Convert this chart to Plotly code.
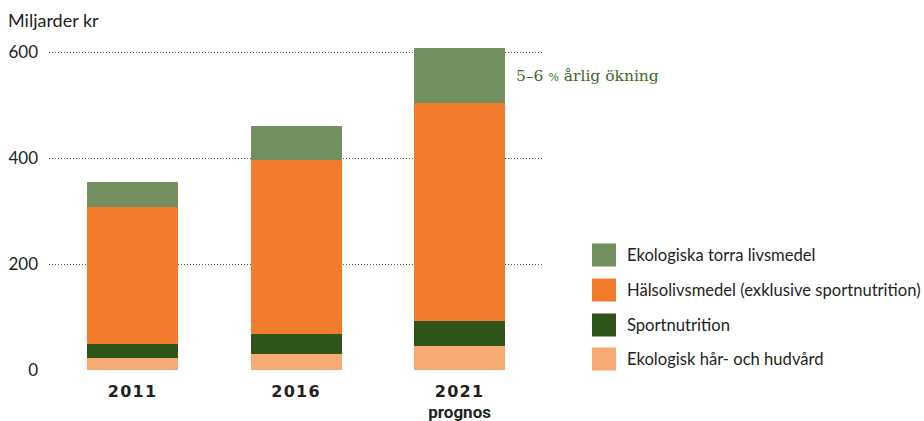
import plotly.graph_objects as go

years = ["2011", "2016", "2021"]
tick_text = [
    "<b><span style='letter-spacing:1.3px'>2011</span></b>",
    "<b><span style='letter-spacing:1.3px'>2016</span></b>",
    "<b><span style='letter-spacing:1.3px'>2021</span></b><br>"
    "<span style='font-family:Roboto;font-size:17px'><b>prognos</b></span>",
]

series_names = [
    "Ekologisk hår- och hudvård",
    "Sportnutrition",
    "Hälsolivsmedel (exklusive sportnutrition)",
    "Ekologiska torra livsmedel",
]
hudvard = [23, 30, 46]
sport = [26, 38, 47]
halso = [259, 329, 412]
torra = [47, 64, 103]
series_values = [hudvard, sport, halso, torra]
colors = ["#f8aa74", "#2f551b", "#f37b2c", "#748f5f"]

y_ticks = [0, 200, 400, 600]
annotation_text = "5–6 <span style='font-size:11px'>%</span> årlig ökning"
y_title = "Miljarder kr"

FONT = "Lato"
TXT = "#231f20"

fig = go.Figure()
for name, vals, col in zip(series_names, series_values, colors):
    fig.add_trace(go.Bar(x=years, y=vals, name=name, marker=dict(color=col, line=dict(width=0)),
                         width=0.557, showlegend=False))

W, H = 924, 421
ml, mr, mt, mb = 49, 381, 31, 51
pw = W - ml - mr
ph = H - mt - mb

def px_x(x):
    return (x - ml) / pw

def px_y(y):
    return (H - mb - y) / ph

shapes = []
annotations = []
legend_y = [255, 290, 325, 359]
for i, (name, col) in enumerate(zip(series_names[::-1], colors[::-1])):
    yc = legend_y[i]
    shapes.append(dict(type="rect", xref="paper", yref="paper",
                       x0=px_x(592), x1=px_x(616), y0=px_y(yc - 11.5), y1=px_y(yc + 11.5),
                       fillcolor=col, line=dict(width=0)))
    annotations.append(dict(xref="paper", yref="paper", x=px_x(625), y=px_y(yc),
                            xanchor="left", yanchor="middle", text=name, showarrow=False,
                            font=dict(family=FONT, size=16.6, color=TXT)))

annotations.append(dict(xref="paper", yref="paper", x=px_x(6), y=px_y(20),
                        xanchor="left", yanchor="middle", text=y_title, showarrow=False,
                        font=dict(family=FONT, size=18, color=TXT)))
annotations.append(dict(xref="paper", yref="paper", x=px_x(514), y=px_y(76),
                        xanchor="left", yanchor="middle", text=annotation_text, showarrow=False,
                        font=dict(family="DejaVu Serif", size=15.5, color="#3b6a28")))

fig.update_layout(
    width=W, height=H,
    margin=dict(l=ml, r=mr, t=mt, b=mb, pad=0, autoexpand=False),
    barmode="stack",
    plot_bgcolor="white", paper_bgcolor="white",
    showlegend=False,
    shapes=shapes, annotations=annotations,
    xaxis=dict(tickmode="array", tickvals=years, ticktext=tick_text, showgrid=False,
               showline=False, zeroline=False, ticks="", range=[-0.511, 2.51],
               ticklabelstandoff=10, automargin=False,
               tickfont=dict(family="DejaVu Sans", size=16, color=TXT)),
    yaxis=dict(range=[0, 640], tickvals=y_ticks, showgrid=True, griddash="1px,2px",
               gridcolor="#555", gridwidth=1, zeroline=False, showline=False, ticks="",
               automargin=False,
               tickfont=dict(family=FONT, size=17, color=TXT), ticklabelstandoff=10),
)

fig.write_html("out.html", config={"displayModeBar": False},
               post_script="document.body.style.margin='0';")
